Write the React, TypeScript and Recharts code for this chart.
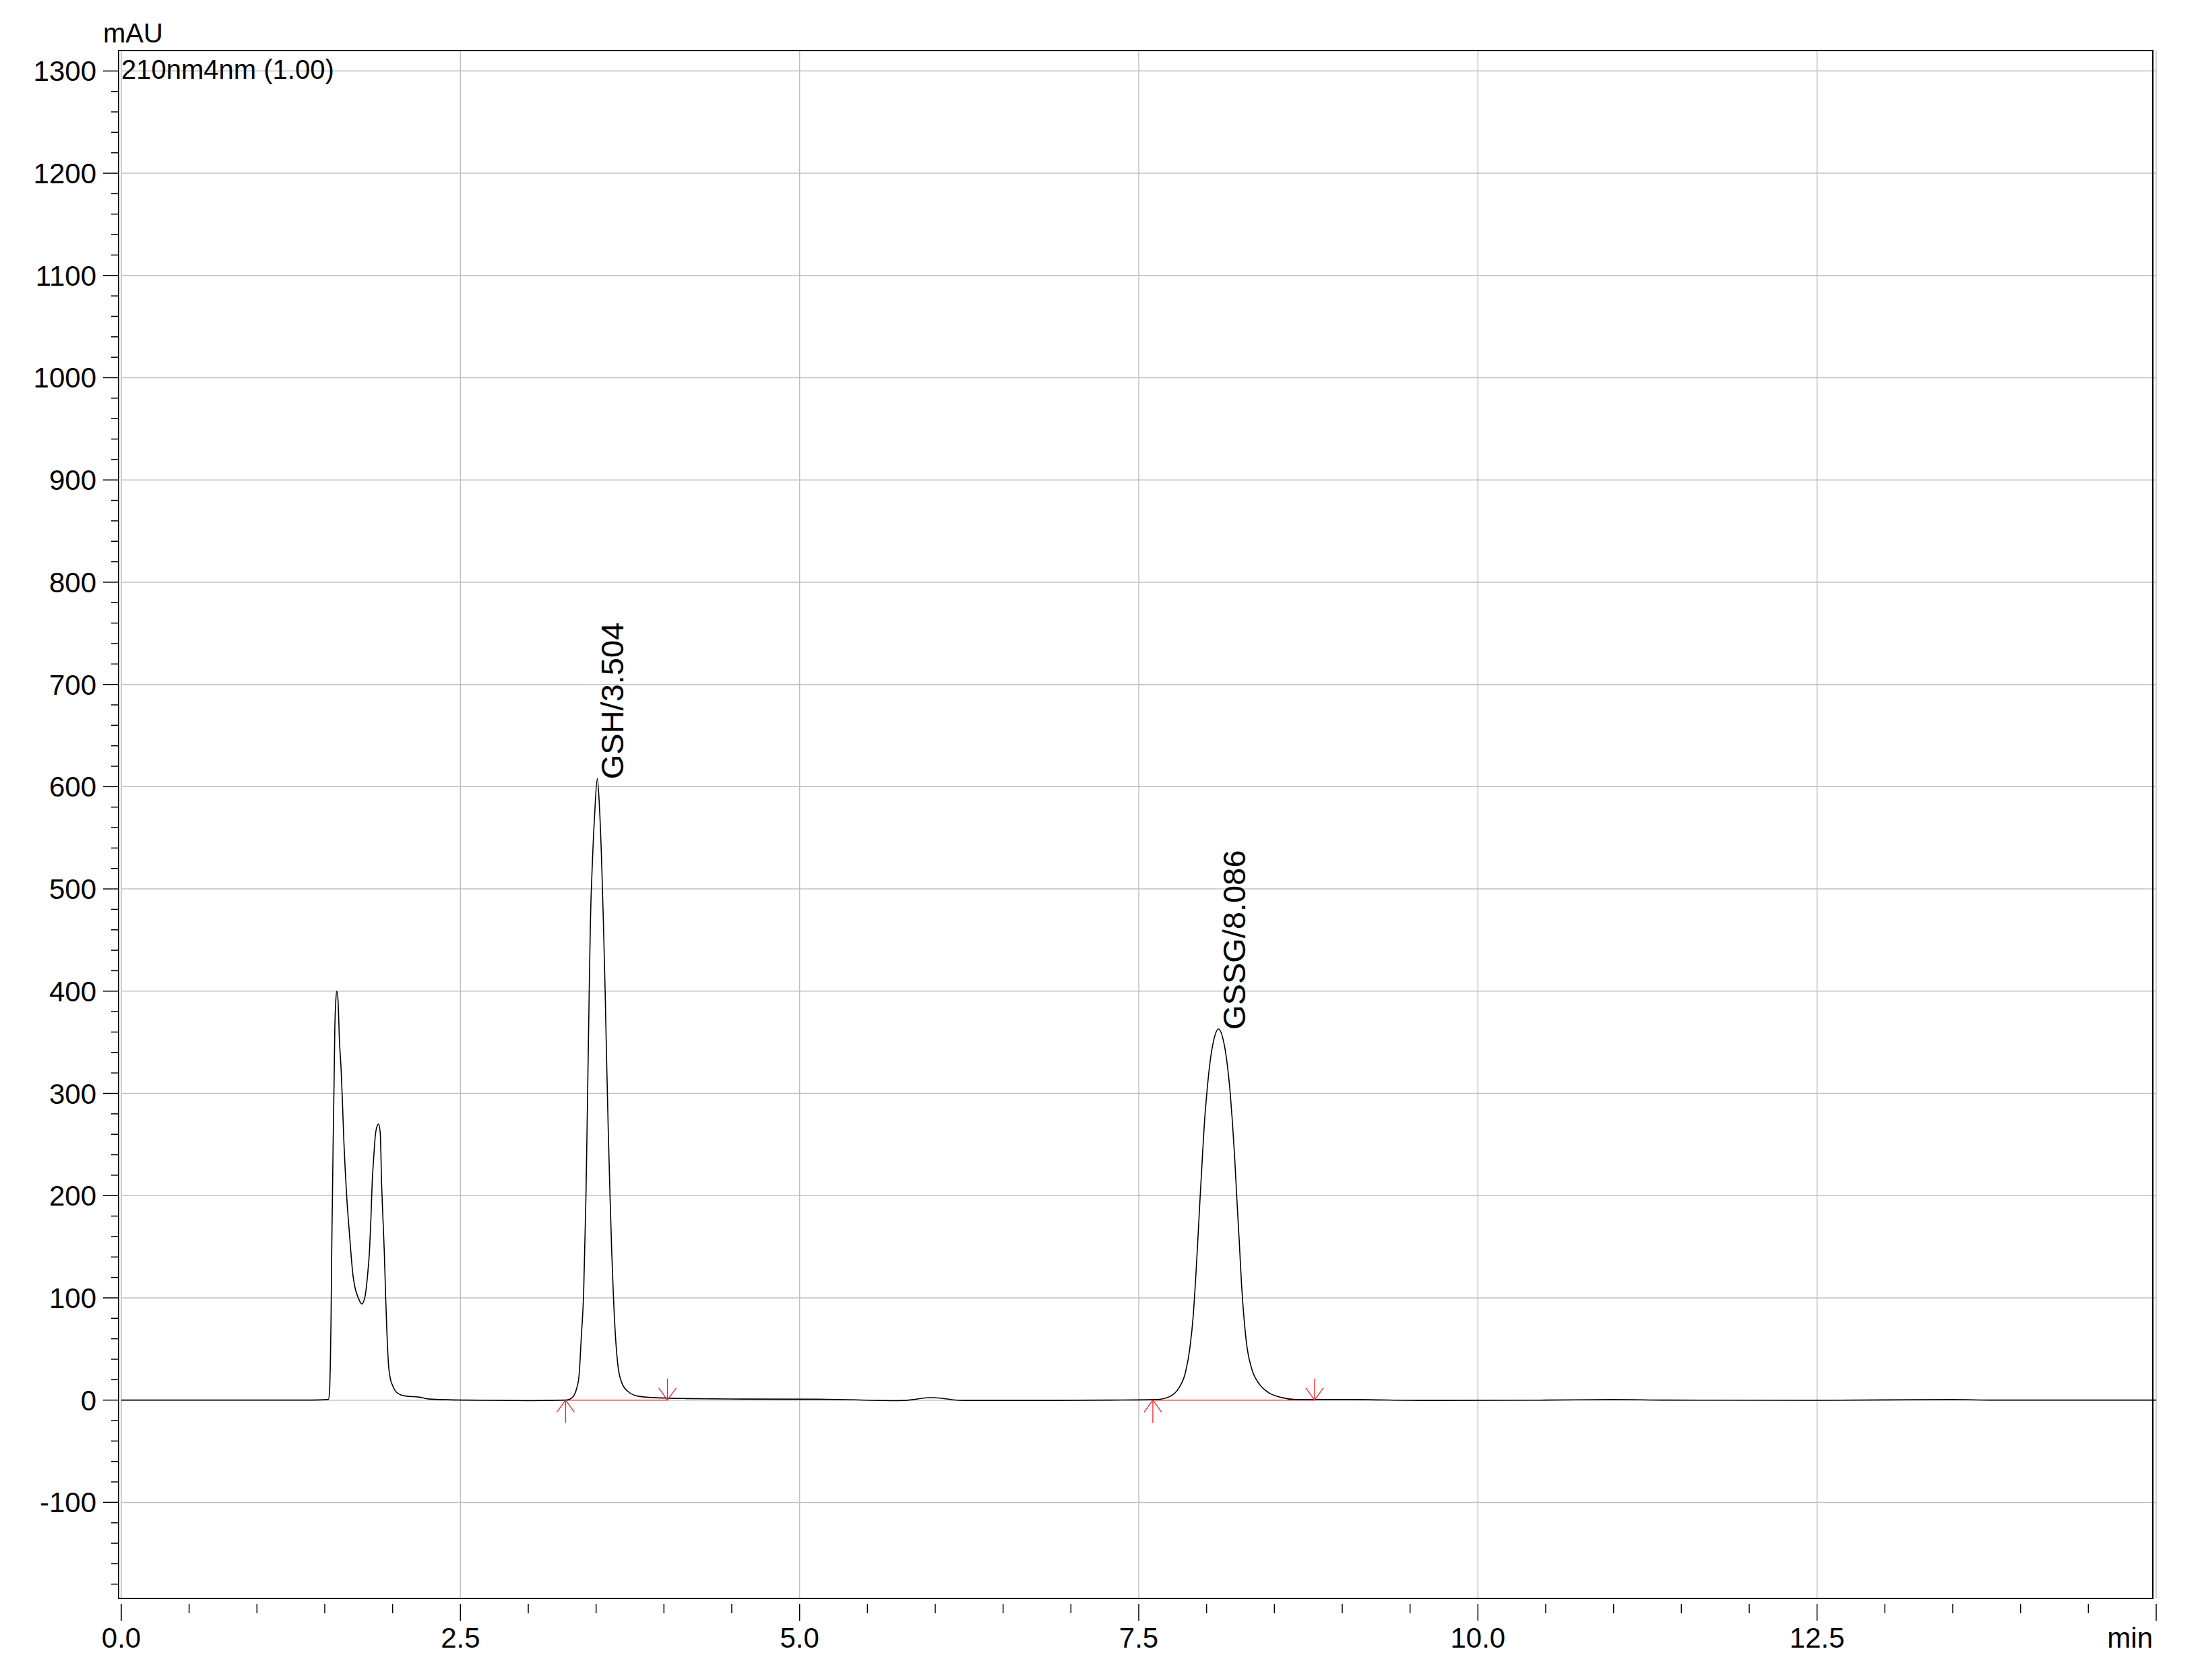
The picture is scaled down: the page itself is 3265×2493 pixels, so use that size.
import {
  LineChart,
  Line,
  XAxis,
  YAxis,
  CartesianGrid,
  ReferenceArea,
  ReferenceLine,
  ReferenceDot,
} from "recharts";

// chromatogram trace (min, mAU)
const timeMin = [
  0, 0.5, 1.0, 1.4, 1.527, 1.535, 1.542, 1.546, 1.551, 1.556, 1.561, 1.568,
  1.574, 1.581, 1.589, 1.598, 1.608, 1.621, 1.631, 1.641, 1.651, 1.664, 1.677,
  1.691, 1.707, 1.723, 1.747, 1.773, 1.796, 1.816, 1.83, 1.84, 1.849, 1.861,
  1.872, 1.886, 1.897, 1.909, 1.919, 1.929, 1.939, 1.949, 1.959, 1.969, 1.982,
  2.001, 2.035, 2.096, 2.192, 2.274, 2.53, 3.0, 3.28, 3.32, 3.358, 3.375,
  3.391, 3.408, 3.425, 3.433, 3.441, 3.449, 3.458, 3.474, 3.491, 3.509, 3.524,
  3.54, 3.554, 3.567, 3.578, 3.59, 3.603, 3.615, 3.627, 3.643, 3.659, 3.689,
  3.739, 3.805, 3.921, 4.169, 4.6, 5.2, 5.72, 5.84, 5.9, 5.97, 6.05, 6.13,
  6.22, 6.8, 7.3, 7.628, 7.728, 7.794, 7.844, 7.877, 7.902, 7.918, 7.935,
  7.951, 7.968, 7.984, 8.001, 8.026, 8.051, 8.088, 8.125, 8.15, 8.175, 8.191,
  8.208, 8.224, 8.241, 8.257, 8.274, 8.299, 8.332, 8.39, 8.456, 8.555, 8.655,
  9.1, 9.6, 10.5, 11.0, 11.4, 12.5, 13.5, 13.8, 15,
];
const signalMAU = [
  0, 0, 0, 0, 0.5, 9, 43, 77, 144, 194, 245, 306,
  363, 390, 400, 390, 352, 322, 289, 252, 224, 194, 171,
  147, 123, 110, 100, 94, 101, 123, 147, 177, 211, 238,
  258, 268, 270, 261, 211, 177, 144, 100, 63, 36, 22,
  14, 7, 4, 3, 1, 0, -0.5, 0, 2, 12, 25,
  62, 104, 198, 262, 330, 398, 467, 530, 577, 608, 582,
  530, 467, 398, 330, 262, 198, 146, 104, 62, 36, 17,
  8, 4, 2.5, 1.5, 1, 0.8, -0.5, 0.5, 1.8, 2.4, 1.8, 0.3,
  -0.3, -0.3, 0, 0.5, 3.5, 11.5, 27, 51, 83, 115, 155,
  195, 235, 271, 299, 331, 351, 363, 351, 331, 299, 271,
  235, 195, 155, 115, 83, 51, 31, 15.5, 7.5, 2.5, 0.6,
  0.5, -0.3, 0, 0.6, 0, -0.2, 0.6, 0, 0,
];

// identified peaks
const peakNames = ["GSH", "GSSG"];
const peakTimes = [3.504, 8.086];
const peakHeights = [608, 363];
const integrationStart = [3.275, 7.604];
const integrationEnd = [4.026, 8.796];

// axes
const yMajorTicks = [
  -100, 0, 100, 200, 300, 400, 500, 600, 700, 800, 900, 1000, 1100, 1200, 1300,
];
const xMajorTicks = [0, 2.5, 5, 7.5, 10, 12.5, 15];
const xTickLabels = ["0.0", "2.5", "5.0", "7.5", "10.0", "12.5", "min"];

const Y_DOMAIN: [number, number] = [-194, 1320];
const X_DOMAIN: [number, number] = [0, 15];
// the frame sits a few pixels left of the time axis origin
const FRAME_X: [number, number] = [-0.02, 14.975];

const yTicks: number[] = [];
for (let v = -180; v <= 1300; v += 20) yTicks.push(v);
const xTicks: number[] = [];
for (let i = 0; i <= 30; i++) xTicks.push(i * 0.5);

const data = timeMin.map((t, i) => ({ t, v: signalMAU[i] }));

const FONT = "'Liberation Sans', Arial, sans-serif";

function YTick({ x, y, payload }: any) {
  const major = yMajorTicks.includes(payload.value);
  const ax = x - 4;
  return (
    <g>
      <line
        x1={ax - (major ? 23 : 11)}
        x2={ax}
        y1={y}
        y2={y}
        stroke="#000"
        strokeWidth={1.5}
      />
      {major && (
        <text
          x={ax - 33}
          y={y + 15}
          textAnchor="end"
          fontSize={42}
          fontFamily={FONT}
          fill="#000"
        >
          {payload.value}
        </text>
      )}
    </g>
  );
}

function XTick({ x, y, payload }: any) {
  const idx = xMajorTicks.indexOf(payload.value);
  const major = idx >= 0;
  const last = idx === xMajorTicks.length - 1;
  return (
    <g>
      <line
        x1={x}
        x2={x}
        y1={y + 8}
        y2={y + (major ? 33 : 22)}
        stroke="#000"
        strokeWidth={1.5}
      />
      {major && (
        <text
          x={last ? x - 5 : x}
          y={y + 73}
          textAnchor={last ? "end" : "middle"}
          fontSize={42}
          fontFamily={FONT}
          fill="#000"
        >
          {xTickLabels[idx]}
        </text>
      )}
    </g>
  );
}

const peakLabel = (text: string) => (props: any) => {
  const px = props.cx + 40;
  const py = props.cy + 1;
  return (
    <text
      x={px}
      y={py}
      transform={`rotate(-90 ${px} ${py})`}
      fontSize={47}
      fontFamily={FONT}
      fill="#000"
    >
      {text}
    </text>
  );
};

const startArrow = (props: any) => {
  const { cx, cy } = props;
  return (
    <g stroke="#ff2020" strokeWidth={1.3} fill="none">
      <line x1={cx} x2={cx} y1={cy} y2={cy + 34} />
      <polyline points={`${cx - 13},${cy + 18} ${cx},${cy} ${cx + 13},${cy + 18}`} />
    </g>
  );
};

const endArrow = (props: any) => {
  const { cx, cy } = props;
  return (
    <g stroke="#ff2020" strokeWidth={1.3} fill="none">
      <line x1={cx} x2={cx} y1={cy - 32} y2={cy} />
      <polyline points={`${cx - 13},${cy - 18} ${cx},${cy} ${cx + 13},${cy - 18}`} />
    </g>
  );
};

export default function App() {
  return (
    <div
      style={{
        position: "absolute",
        left: 0,
        top: 0,
        width: 3265,
        height: 2493,
        background: "#fff",
      }}
    >
      <LineChart
        width={3265}
        height={2493}
        data={data}
        margin={{ top: 75, right: 65, bottom: 0, left: 0 }}
      >
        <CartesianGrid
          stroke="#c0c0c0"
          strokeWidth={1.5}
          horizontalValues={yMajorTicks}
          verticalValues={xMajorTicks}
        />
        <XAxis
          type="number"
          dataKey="t"
          domain={X_DOMAIN}
          ticks={xTicks}
          interval={0}
          height={121}
          tickSize={0}
          tickMargin={0}
          tickLine={false}
          axisLine={false}
          tick={<XTick />}
          allowDataOverflow
        />
        <YAxis
          type="number"
          domain={Y_DOMAIN}
          ticks={yTicks}
          interval={0}
          width={180}
          tickSize={0}
          tickMargin={0}
          tickLine={false}
          axisLine={false}
          tick={<YTick />}
          allowDataOverflow
        />
        <ReferenceArea
          x1={FRAME_X[0]}
          x2={FRAME_X[1]}
          y1={Y_DOMAIN[0]}
          y2={Y_DOMAIN[1]}
          fill="none"
          stroke="#000"
          strokeWidth={2}
          ifOverflow="visible"
        />
        {integrationStart.map((s, i) => (
          <ReferenceLine
            key={`base-${i}`}
            segment={[
              { x: s, y: 0 },
              { x: integrationEnd[i], y: 0 },
            ]}
            stroke="#ff2020"
            strokeWidth={1.3}
          />
        ))}
        <Line
          type="monotone"
          dataKey="v"
          stroke="#000"
          strokeWidth={1.6}
          dot={false}
          isAnimationActive={false}
        />
        {integrationStart.map((s, i) => (
          <ReferenceDot
            key={`start-${i}`}
            x={s}
            y={0}
            r={0}
            shape={startArrow}
          />
        ))}
        {integrationEnd.map((e, i) => (
          <ReferenceDot
            key={`end-${i}`}
            x={e}
            y={0}
            r={0}
            shape={endArrow}
          />
        ))}
        {peakNames.map((name, i) => (
          <ReferenceDot
            key={`peak-${i}`}
            x={peakTimes[i]}
            y={peakHeights[i]}
            r={0}
            shape={peakLabel(`${name}/${peakTimes[i].toFixed(3)}`)}
          />
        ))}
      </LineChart>
      <svg
        width={3265}
        height={2493}
        style={{ position: "absolute", left: 0, top: 0, pointerEvents: "none" }}
      >
        <text x={153} y={63} fontSize={40} fontFamily={FONT} fill="#000">
          mAU
        </text>
        <text x={180} y={117} fontSize={40} fontFamily={FONT} fill="#000">
          210nm4nm (1.00)
        </text>
      </svg>
    </div>
  );
}
